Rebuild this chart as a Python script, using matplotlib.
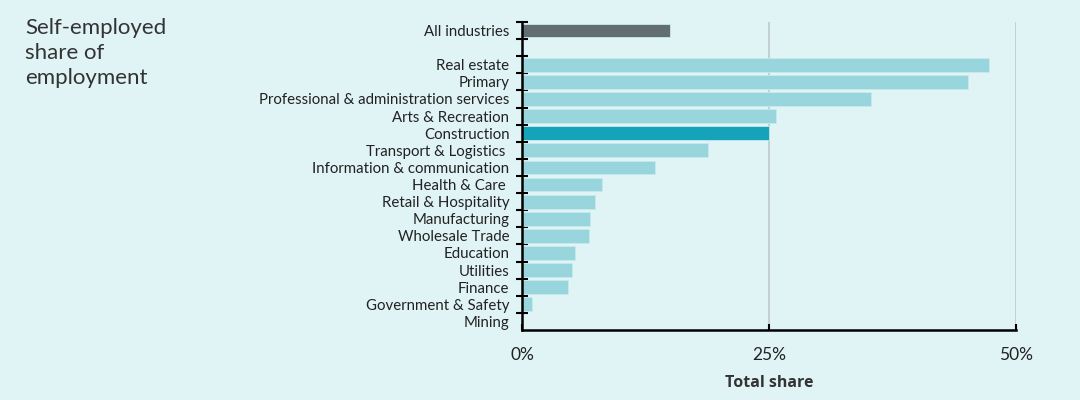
import matplotlib.pyplot as plt
import numpy as np

# data (self-employed share, %)
industries = ['All industries', '', 'Real estate', 'Primary',
              'Professional & administration services', 'Arts & Recreation',
              'Construction', 'Transport & Logistics ', 'Information & communication',
              'Health & Care ', 'Retail & Hospitality', 'Manufacturing',
              'Wholesale Trade', 'Education', 'Utilities', 'Finance',
              'Government & Safety', 'Mining']
share = [15.0, 0, 47.3, 45.1, 35.3, 25.7, 25.0, 18.8, 13.5, 8.1, 7.4,
         6.9, 6.8, 5.4, 5.1, 4.7, 1.0, 0.0]
highlight = {'All industries': '#636e73', 'Construction': '#14a3b8'}
x_ticks = [0, 25, 50]

bg = '#e0f3f5'
plt.rcParams['font.family'] = ['Lato', 'DejaVu Sans']

fig = plt.figure(figsize=(10.8, 4), dpi=100, facecolor=bg)
ax = fig.add_axes([0.4833, 0.175, 0.4574, 0.77])
ax.set_facecolor(bg)

y = np.arange(len(industries))
colors = [highlight.get(name, '#98d5dc') for name in industries]
edge_w = [0.6 if v > 0 else 0 for v in share]
ax.barh(y, share, height=0.8, color=colors, edgecolor='#c8eaee', linewidth=edge_w, zorder=3)

ax.set_xlim(0, 50)
ax.set_ylim(len(industries) - 0.5, -0.5)

# gridlines
for v in x_ticks[1:]:
    ax.axvline(v, color='#bfcdcb', linewidth=1.3, zorder=1)

ax.set_xticks(x_ticks)
ax.set_xticklabels([f'{v}%' for v in x_ticks], fontsize=12.5, color='#222222')
ax.tick_params(axis='x', direction='in', length=4, width=1.5, pad=12)

ax.set_yticks(y)
ax.set_yticklabels(industries, fontsize=10.8, color='#222222')
ax.tick_params(axis='y', which='major', length=0, pad=9)
ax.set_yticks(np.arange(-0.5, len(industries) - 0.5, 1), minor=True)
ax.tick_params(axis='y', which='minor', direction='inout', length=8, width=1.5)

for side in ['top', 'right']:
    ax.spines[side].set_visible(False)
for side in ['left', 'bottom']:
    ax.spines[side].set_linewidth(1.8)
    ax.spines[side].set_color('black')
    ax.spines[side].set_zorder(4)

ax.set_xlabel('Total share', fontsize=11.5, fontweight='bold', color='#333333',
              family=['Open Sans', 'DejaVu Sans'], labelpad=9)

fig.text(0.023, 0.955, 'Self-employed\nshare of\nemployment', fontsize=16,
         color='#333333', va='top', ha='left', linespacing=1.3)

fig.savefig('out.png', facecolor=bg)
